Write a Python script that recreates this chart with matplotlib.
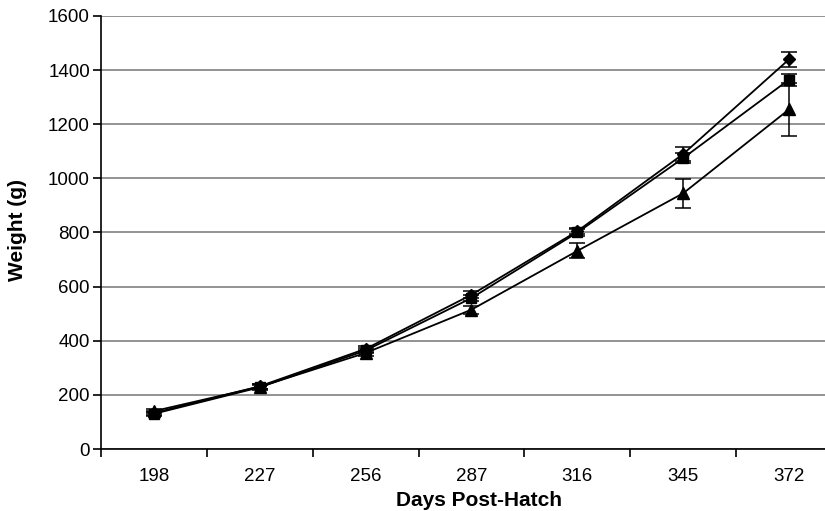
import matplotlib.pyplot as plt
import numpy as np

plt.rcParams['font.family'] = ['Liberation Sans', 'DejaVu Sans']

# Data
days = ['198', '227', '256', '287', '316', '345', '372']
diamond = [133, 232, 370, 570, 805, 1090, 1440]
diamond_err = [8, 10, 10, 12, 12, 25, 28]
square = [130, 228, 364, 558, 800, 1075, 1365]
square_err = [8, 10, 10, 12, 12, 20, 22]
triangle = [140, 230, 355, 515, 732, 945, 1255]
triangle_err = [8, 10, 10, 15, 28, 53, 97]

fig = plt.figure(figsize=(8.25, 5.11), dpi=100)
ax = fig.add_axes([101 / 825, 62 / 511, 741 / 825, 433 / 511])

x = np.arange(len(days))
for vals, errs, mk, ms in [(diamond, diamond_err, 'D', 6),
                           (square, square_err, 's', 6.5),
                           (triangle, triangle_err, '^', 8)]:
    ax.errorbar(x, vals, yerr=errs, color='black', marker=mk, markersize=ms,
                linewidth=1.3, elinewidth=1.1, capsize=6, capthick=1.1, zorder=3)

ax.set_ylim(0, 1600)
ax.set_yticks(range(0, 1601, 200))
ax.set_xlim(-0.5, 6.5)
ax.set_xticks(x)
ax.set_xticklabels(days)
ax.set_xticks(np.arange(-0.5, 6.6, 1), minor=True)
ax.tick_params(axis='x', which='major', length=0, labelsize=13.5, pad=14)
ax.tick_params(axis='x', which='minor', length=6, width=1.2, direction='out')
ax.tick_params(axis='y', length=6, width=1.2, direction='out', labelsize=13.5, pad=2)

ax.grid(axis='y', color='#808080', linewidth=1.2, zorder=0)
ax.set_axisbelow(True)
for s in ['top', 'right']:
    ax.spines[s].set_visible(False)
ax.spines['left'].set_linewidth(1.2)
ax.spines['bottom'].set_linewidth(1.2)

ax.set_xlabel('Days Post-Hatch', fontsize=15, fontweight='bold')
ax.set_ylabel('Weight (g)', fontsize=15, fontweight='bold')
ax.xaxis.set_label_coords(0.51, -0.098)
ax.yaxis.set_label_coords(-0.1, 0.505)

fig.savefig('out.png', dpi=100)
